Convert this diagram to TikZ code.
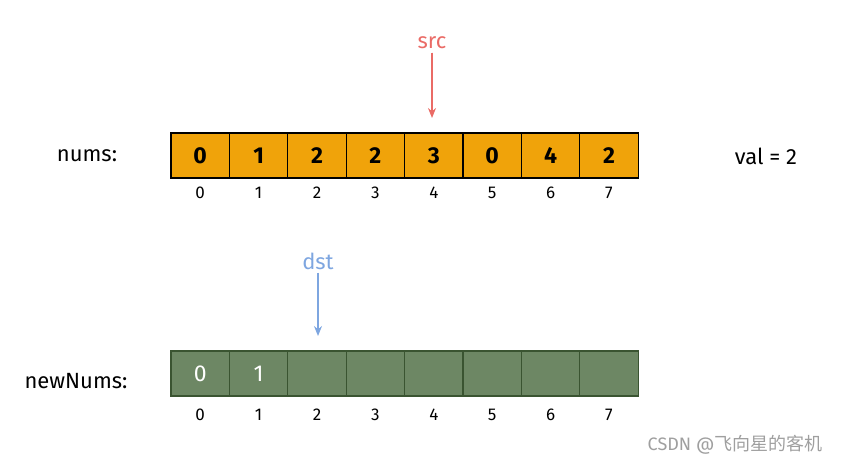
\documentclass[tikz,border=0pt]{standalone}
\usepackage{fontspec}
\setmainfont{Fira Sans}
\newfontfamily\cjk{Noto Sans CJK SC}
\usepackage{xcolor}
\definecolor{cellorange}{HTML}{F0A30A}
\definecolor{cellgreen}{HTML}{6D8764}
\definecolor{edgegreen}{HTML}{3A5431}
\definecolor{ptrred}{HTML}{EA6B66}
\definecolor{ptrblue}{HTML}{7EA6E0}
\usetikzlibrary{arrows.meta}
\tikzset{
  cell/.style={draw, line width=1.3pt, minimum width=58.4pt, minimum height=45pt, inner sep=0pt,
    font=\fontsize{23}{26}\selectfont\bfseries},
  oldcell/.style={cell, fill=cellorange, draw=black},
  newcell/.style={cell, fill=cellgreen, draw=edgegreen, text=white, font=\fontsize{23}{26}\selectfont},
  idx/.style={font=\fontsize{17}{20}\selectfont},
  lbl/.style={font=\fontsize{22}{26}\selectfont},
  ptr/.style={-{Stealth[length=10pt,width=8pt]}, line width=1.3pt, shorten >=2pt},
}
\begin{document}
\begin{tikzpicture}[x=1pt, y=-1pt]
  \useasboundingbox (0,0) rectangle (845,466);
  % nums array
  \foreach \v [count=\i from 0] in {0,1,2,2,3,0,4,2} {
    \node[oldcell] (n\i) at (200.2+58.4*\i,155.5) {\v};
    \node[idx] (ni\i) at (200.2+58.4*\i,193) {\i};
  }
  \node[lbl] (numslbl) at (87,156) {nums:};
  \node[lbl] (val) at (766,156) {val = 2};
  % src pointer
  \node[lbl, text=ptrred] (src) at (432,43) {src};
  \coordinate (srctip) at (432,120);
  \draw[ptr, draw=ptrred, fill=ptrred] (src) -- (srctip);

  % newNums array
  \foreach \v [count=\i from 0] in {0,1,,,,,,} {
    \node[newcell] (m\i) at (200.2+58.4*\i,373.5) {\v};
    \node[idx] (mi\i) at (200.2+58.4*\i,415) {\i};
  }
  \node[lbl] (newlbl) at (76,381) {newNums:};
  % dst pointer
  \node[lbl, text=ptrblue] (dst) at (318,261) {dst};
  \coordinate (dsttip) at (318,338);
  \draw[ptr, draw=ptrblue, fill=ptrblue] (dst) -- (dsttip);

  % watermark
  \node[text=gray!75, font=\fontsize{18}{20}\selectfont] (mark) at (735,445) {CSDN @{\cjk 飞向星的客机}};
\end{tikzpicture}
\end{document}
